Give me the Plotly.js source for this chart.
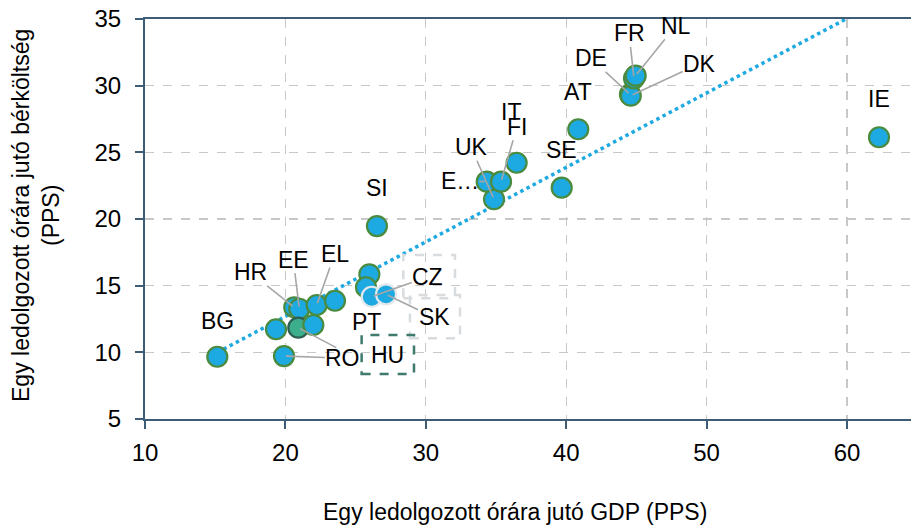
<!DOCTYPE html>
<html>
<head>
<meta charset="utf-8">
<script src="https://cdn.plot.ly/plotly-3.0.1.min.js"></script>
<style>html,body{margin:0;padding:0;background:#fff;}#chart{width:911px;height:529px;}</style>
</head>
<body>
<div id="chart"></div>
<script>
// ---- data ----
const countries = ['BG','RO','LV','HR','EE','HU','PL','EL','LT','CY','PT','CZ','SK','SI','UK','EU','FI','IT','SE','AT','DE','DK','FR','NL','IE'];
const gdpPerHour = [15.15,19.90,19.33,20.63,20.99,20.92,21.99,22.23,23.53,25.98,25.74,26.15,27.17,26.52,34.86,34.34,35.36,36.47,39.68,40.86,44.54,44.60,44.83,44.95,62.28];
const wagePerHour = [9.67,9.72,11.73,13.38,13.27,11.85,12.05,13.55,13.87,15.85,14.88,14.17,14.35,19.47,21.48,22.80,22.80,24.22,22.35,26.73,29.35,29.25,30.55,30.75,26.13];
const trendX = [15.15, 62.28];
const trendY = [9.99, 36.31];
const xTicks = [10,20,30,40,50,60];
const yTicks = [5,10,15,20,25,30,35];
const xTitle = 'Egy ledolgozott órára jutó GDP (PPS)';
const yTitle = 'Egy ledolgozott órára jutó bérköltség<br>(PPS)';

const FONT = 'Liberation Sans, Arial, sans-serif';
const TICK = 24, LBL = 23, TTL = 23;

// ---- styling ----
const BLUE = '#1DA9E1';
const highlightLight = ['CZ','SK'];
const highlightMain = ['HU'];
const fillColors = countries.map(c => highlightMain.includes(c) ? '#3DAE8C' : BLUE);
const lineColors = countries.map(c => highlightMain.includes(c) ? '#2F5E52' : (highlightLight.includes(c) ? '#E3E8EC' : '#4A8B3F'));

// label placement (pixel offsets of label centre from its point)
const labelCfg = {
  BG:{dx:0,dy:-36}, RO:{dx:59,dy:2,arrow:true}, HU:{dx:89,dy:27},
  HR:{dx:-44,dy:-35,arrow:true}, EE:{dx:-6,dy:-49,arrow:true}, EL:{dx:18,dy:-51,arrow:true},
  CZ:{dx:56,dy:-20,arrow:true}, SK:{dx:48,dy:23,arrow:true}, PT:{dx:1,dy:35},
  SI:{dx:0,dy:-38}, UK:{dx:-23,dy:-52,arrow:true}, EU:{dx:-27,dy:-1,arrow:true,text:'E…'},
  FI:{dx:16,dy:-55,arrow:true}, IT:{dx:-6,dy:-51}, SE:{dx:0,dy:-38}, AT:{dx:0,dy:-37},
  DE:{dx:-39,dy:-36,arrow:true}, DK:{dx:69,dy:-32,arrow:true}, FR:{dx:-5,dy:-45,arrow:true},
  NL:{dx:40,dy:-50,arrow:true}, IE:{dx:0,dy:-38}
};

const annotations = [];
countries.forEach((c,i) => {
  const cfg = labelCfg[c];
  if (!cfg) return;
  const a = {x: gdpPerHour[i], y: wagePerHour[i], xref:'x', yref:'y', text: cfg.text || c,
    font:{family:FONT, size:LBL, color:'#000'}};
  if (cfg.arrow) {
    Object.assign(a, {showarrow:true, ax:cfg.dx, ay:cfg.dy, arrowhead:0, arrowwidth:1.6,
      arrowcolor:'#A6A6A6', standoff:2, borderpad:0});
  } else {
    Object.assign(a, {showarrow:false, xshift:cfg.dx, yshift:-cfg.dy});
  }
  annotations.push(a);
});
// extra leader line from the highlighted point
const iHU = countries.indexOf('HU');
annotations.push({x: gdpPerHour[iHU], y: wagePerHour[iHU], xref:'x', yref:'y', text:' ',
  showarrow:true, ax:40, ay:21, arrowhead:0, arrowwidth:1.6, arrowcolor:'#A6A6A6', standoff:2,
  font:{size:2}});
// axis titles
annotations.push({xref:'paper', yref:'paper', x:0.483, y:-0.2325, xanchor:'center', yanchor:'middle',
  text:xTitle, showarrow:false, font:{family:FONT, size:TTL, color:'#000'}});
annotations.push({xref:'paper', yref:'paper', x:-0.1423, y:0.51, xanchor:'center', yanchor:'middle',
  text:yTitle, textangle:-90, showarrow:false, font:{family:FONT, size:TTL, color:'#000'}});

const traces = [
  {x: trendX, y: trendY, mode:'lines', line:{color:BLUE, width:3.5, dash:'dot'}, hoverinfo:'skip', showlegend:false},
  {x: gdpPerHour, y: wagePerHour, text: countries, mode:'markers', showlegend:false,
   marker:{size:20, color:fillColors, line:{color:lineColors, width:2.2}}, cliponaxis:false,
   hovertemplate:'%{text}: %{x}, %{y}<extra></extra>'}
];

const layout = {
  width:911, height:529,
  margin:{l:145, r:0, t:19, b:110},
  paper_bgcolor:'#fff', plot_bgcolor:'#fff',
  font:{family:FONT, size:TICK, color:'#000'},
  showlegend:false,
  xaxis:{range:[10,64.56], tickvals:xTicks, ticktext:xTicks.map(String),
    showgrid:true, gridcolor:'#C8C8C8', griddash:'dash', gridwidth:1.3,
    showline:true, linecolor:'#3E5C76', linewidth:2, mirror:true,
    ticks:'outside', ticklen:8, tickwidth:2, tickcolor:'#3E5C76', zeroline:false,
    ticklabelstandoff:3,
    tickfont:{family:FONT, size:TICK, color:'#000'}},
  yaxis:{range:[5,35], tickvals:yTicks, ticktext:yTicks.map(String),
    showgrid:true, gridcolor:'#C8C8C8', griddash:'dash', gridwidth:1.3,
    showline:true, linecolor:'#3E5C76', linewidth:2,
    ticks:'outside', ticklen:8, tickwidth:2, tickcolor:'#3E5C76', zeroline:false,
    ticklabelstandoff:9,
    tickfont:{family:FONT, size:TICK, color:'#000'}},
  shapes:[
    {type:'rect', xref:'x', yref:'y', x0:28.40, x1:32.08, y0:14.05, y1:17.30, line:{color:'#D9DCDF', width:2.5, dash:'dash'}},
    {type:'rect', xref:'x', yref:'y', x0:28.87, x1:32.44, y0:11.05, y1:14.30, line:{color:'#D9DCDF', width:2.5, dash:'dash'}},
    {type:'rect', xref:'x', yref:'y', x0:25.43, x1:29.16, y0:8.37, y1:11.30, line:{color:'#3F7A6E', width:2.5, dash:'dash'}}
  ],
  annotations: annotations
};

Plotly.newPlot('chart', traces, layout, {staticPlot:true, displayModeBar:false});
</script>
</body>
</html>
